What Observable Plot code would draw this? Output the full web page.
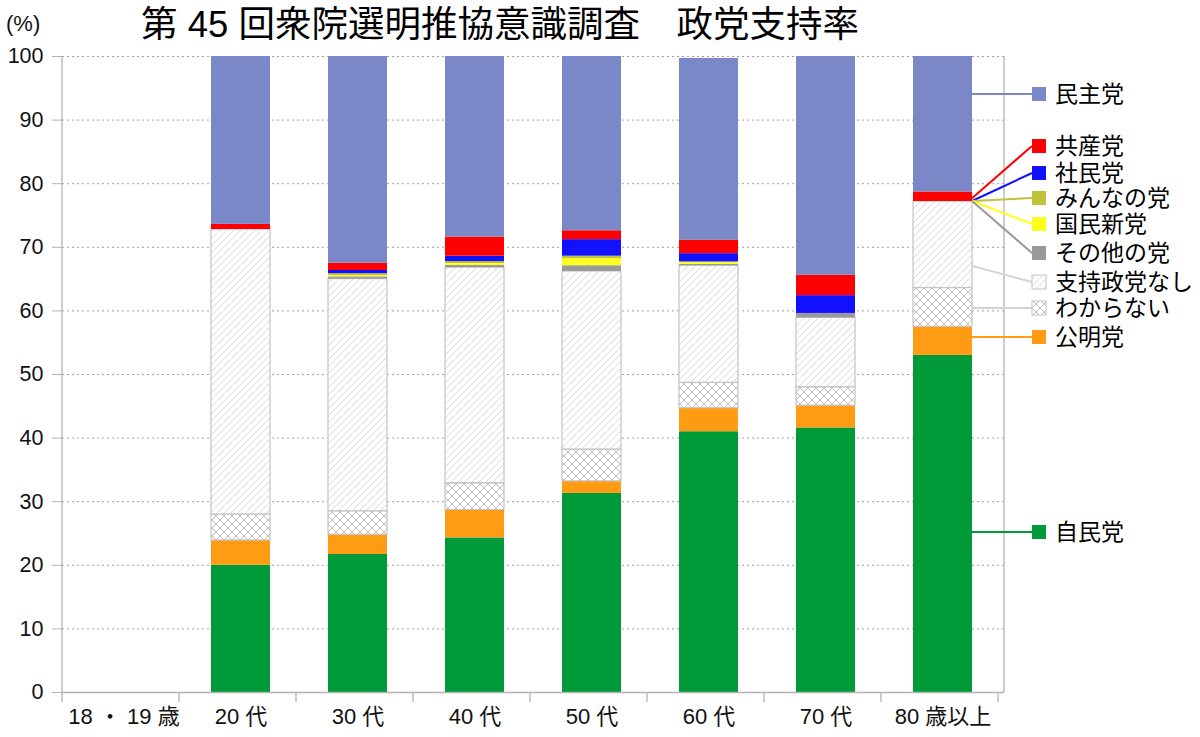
<!DOCTYPE html>
<html><head><meta charset="utf-8">
<script src="https://cdn.jsdelivr.net/npm/d3@7"></script>
<script src="https://cdn.jsdelivr.net/npm/@observablehq/plot@0.6"></script>
<style>
body{margin:0;background:#fff;font-family:"Liberation Sans","Noto Sans CJK JP",sans-serif;}
#wrap{position:relative;width:1200px;height:737px;overflow:hidden;}
#title{position:absolute;left:141px;top:2px;font-size:36.5px;line-height:46px;color:#000;white-space:pre;}
#unit{position:absolute;left:6px;top:12px;font-size:22px;line-height:24px;color:#111;}
#chart{position:absolute;left:0;top:44px;}
</style></head><body>
<div id="wrap">
<div id="title">第 45 回衆院選明推協意識調査　政党支持率</div>
<div id="unit">(%)</div>
<div id="chart"></div>
</div>
<script>
// ---- data ----
const ageGroups = ["18 ・ 19 歳","20 代","30 代","40 代","50 代","60 代","70 代","80 歳以上"];
// stack order, bottom to top
const parties = ["自民党","公明党","わからない","支持政党なし","その他の党","国民新党","みんなの党","社民党","共産党","民主党"];
const jimin   = [null, 20.0, 21.7, 24.3, 31.3, 41.0, 41.6, 53.0];
const komei   = [null,  3.9,  3.1,  4.4,  1.9,  3.7,  3.5,  4.5];
const wakaranai = [null, 4.1, 3.7, 4.2, 5.0, 4.0, 2.9, 6.1];
const nashi   = [null, 44.8, 36.5, 33.9, 28.0, 18.4, 10.9, 13.6];
const sonota  = [null,  0.0, 0.35, 0.35, 0.9,  0.2,  0.7,  0.0];
const kokumin = [null,  0.0, 0.2,  0.3,  1.1,  0.3,  0.0,  0.0];
const minna   = [null,  0.0, 0.3,  0.3,  0.4,  0.1,  0.0,  0.0];
const shamin  = [null,  0.0, 0.5,  0.85, 2.6,  1.3,  2.8,  0.0];
const kyosan  = [null,  0.8, 1.15, 3.0,  1.4,  2.1,  3.2,  1.5];
const minshu  = [null, 26.4, 32.5, 28.4, 27.4, 28.6, 34.4, 21.3];
const legendOrder = ["民主党","共産党","社民党","みんなの党","国民新党","その他の党","支持政党なし","わからない","公明党","自民党"];

// ---- styles ----
const seriesValues = [jimin, komei, wakaranai, nashi, sonota, kokumin, minna, shamin, kyosan, minshu];
const fills = {
  "自民党":"#009a38","公明党":"#ff9c14","わからない":"url(#pat-cross)","支持政党なし":"url(#pat-diag)",
  "その他の党":"#9a9a9a","国民新党":"#ffff1e","みんなの党":"#bfc23a","社民党":"#1111ff","共産党":"#ff0000","民主党":"#7a88c8"
};
const hatched = new Set(["わからない","支持政党なし"]);
const leaderColor = p => hatched.has(p) ? "#d2d2d2" : fills[p];
// legend label centre (page px) - layout only
const legendY = {"民主党":94,"共産党":146,"社民党":173,"みんなの党":198,"国民新党":224,"その他の党":253,"支持政党なし":282,"わからない":308,"公明党":337,"自民党":532};
const TOP = 44;

const rows = [];
ageGroups.forEach((age, i) => {
  parties.forEach((p, k) => {
    const v = seriesValues[k][i];
    if (v != null) rows.push({age, party: p, value: v});
  });
});

const plot = Plot.plot({
  width: 1200, height: 693,
  marginTop: 12, marginBottom: 45, marginLeft: 62, marginRight: 196,
  style: {fontFamily: "Liberation Sans, Noto Sans CJK JP, sans-serif", fontSize: "21px", background: "#fff"},
  x: {domain: ageGroups, paddingInner: 0.5, paddingOuter: 0.25, label: null},
  y: {domain: [0, 100], label: null},
  color: {type: "identity"},
  marks: [
    Plot.gridY(d3.range(0, 101, 10), {stroke: "#a0a0a0", strokeOpacity: 1, strokeDasharray: "2,3"}),
    Plot.barY(rows, Plot.stackY({order: null}, {
      x: "age", y: "value",
      fill: d => fills[d.party],
      stroke: d => hatched.has(d.party) ? "#c4c4c4" : "none",
      strokeWidth: 1.2
    })),
    Plot.ruleY([0], {stroke: "#b3b3b3", strokeWidth: 1.3}),
    Plot.axisY(d3.range(0, 101, 10), {tickSize: 10, tickPadding: 9, fontSize: 21.5, stroke: "#b3b3b3", fill: "#111", label: null}),
    Plot.axisX({tickSize: 0, tickPadding: 16, fontSize: 22, fill: "#111", label: null})
  ]
});

const svg = d3.select(plot);
const defs = svg.insert("defs", ":first-child");
const diag = defs.append("pattern").attr("id", "pat-diag").attr("patternUnits", "userSpaceOnUse").attr("width", 7).attr("height", 7);
diag.append("rect").attr("width", 7).attr("height", 7).attr("fill", "#fff");
diag.append("path").attr("d", "M0,7 L7,0 M-1,1 L1,-1 M6,8 L8,6").attr("stroke", "#d6d6d6").attr("stroke-width", 0.9);
const cross = defs.append("pattern").attr("id", "pat-cross").attr("patternUnits", "userSpaceOnUse").attr("width", 8).attr("height", 8);
cross.append("rect").attr("width", 8).attr("height", 8).attr("fill", "#fff");
cross.append("path").attr("d", "M0,8 L8,0 M-1,1 L1,-1 M7,9 L9,7 M0,0 L8,8 M-1,7 L1,9 M7,-1 L9,1").attr("stroke", "#b8b8b8").attr("stroke-width", 0.9);

const xs = plot.scale("x"), ys = plot.scale("y");
const [x0, x1] = xs.range;
const [yb, yt] = ys.range;
const g = svg.append("g").attr("text-anchor", "start");
// frame: left and right border lines
g.append("line").attr("x1", x0).attr("x2", x0).attr("y1", yt).attr("y2", yb).attr("stroke", "#b3b3b3").attr("stroke-width", 1.3);
g.append("line").attr("x1", x1).attr("x2", x1).attr("y1", yt).attr("y2", yb).attr("stroke", "#b3b3b3").attr("stroke-width", 1.3);
// x ticks at category boundaries
const step = xs.step;
for (let i = 0; i <= ageGroups.length; i++) {
  const bx = x0 + i * step;
  g.append("line").attr("x1", bx).attr("x2", bx).attr("y1", yb).attr("y2", yb + 10).attr("stroke", "#b3b3b3").attr("stroke-width", 1.3);
}
// leader lines and legend, anchored on the last group's segments
const lastIdx = ageGroups.length - 1;
const lastAge = ageGroups[lastIdx];
const barRight = xs.apply(lastAge) + xs.bandwidth;
let acc = 0;
const seg = {};
parties.forEach((p, k) => { const v = seriesValues[k][lastIdx] || 0; seg[p] = [acc, acc + v]; acc += v; });
const lx = 1032;
legendOrder.forEach(p => {
  const ly = legendY[p] - TOP;
  const [lo, hi] = seg[p];
  const h = hi - lo;
  const lv = ys.invert ? ys.invert(ly) : (100 - (ly - yt) / (yb - yt) * 100);
  let av = h < 2 ? lo + h * 0.3 : Math.max(lo + 0.25 * h, Math.min(hi - 0.25 * h, lv));
  const ay = ys.apply(av);
  g.append("line").attr("x1", barRight).attr("y1", ay).attr("x2", lx).attr("y2", ly)
    .attr("stroke", leaderColor(p)).attr("stroke-width", 2);
  g.append("rect").attr("x", lx).attr("y", ly - 7).attr("width", 14).attr("height", 14)
    .attr("fill", fills[p]).attr("stroke", hatched.has(p) ? "#c4c4c4" : "none");
  g.append("text").attr("x", 1055).attr("y", ly).attr("dy", "0.36em").attr("text-anchor", "start")
    .attr("font-size", 23).attr("fill", "#000").text(p);
});
document.getElementById("chart").appendChild(plot);
</script>
</body></html>
